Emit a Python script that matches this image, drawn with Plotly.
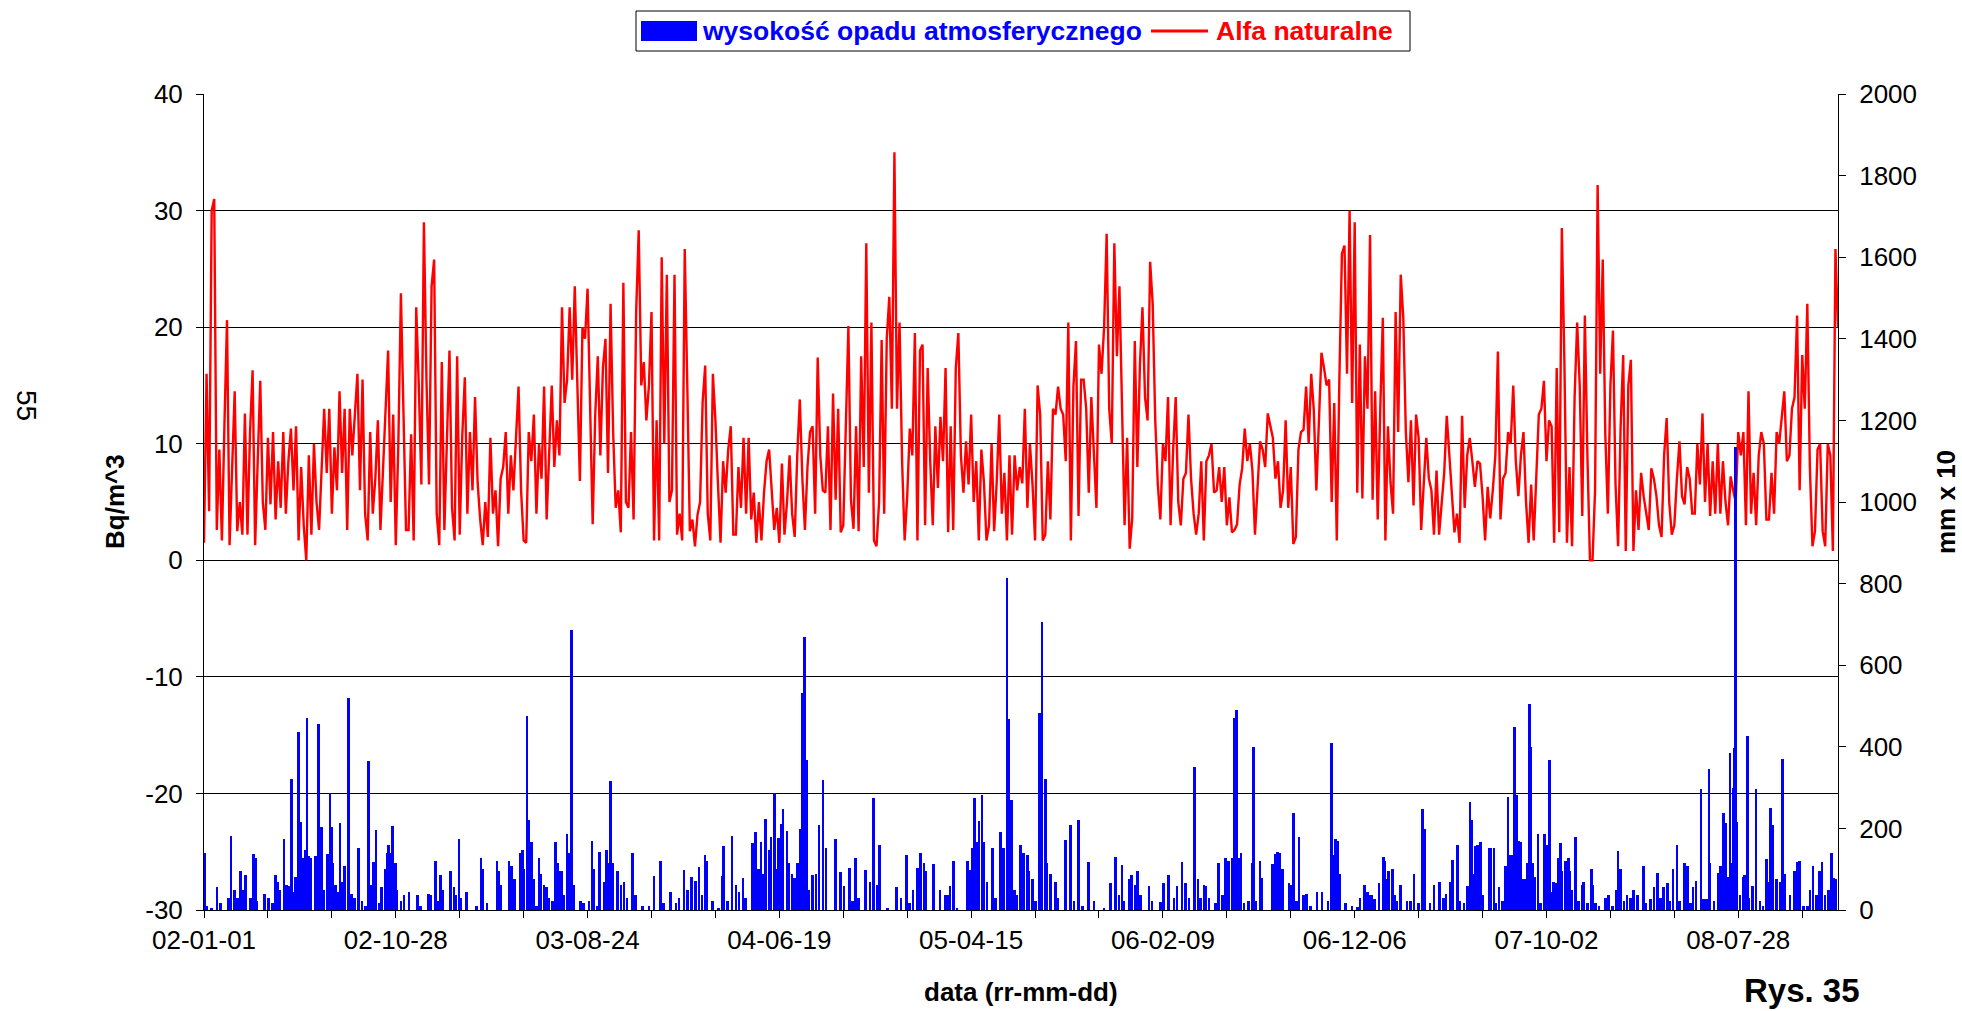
import pandas as pd
import plotly.graph_objects as go

# ---- data -------------------------------------------------------------
START = "2002-01-01"
END = "2008-12-31"
STEP_DAYS = 4  # natural alpha series, one reading every 4 days

# natural alpha concentration [Bq/m^3], consecutive 320-day periods
alfa_p1 = [1.5, 16, 4.2, 30, 31, 2.6, 9.5, 1.7, 11.7, 20.6, 1.3, 8, 14.5, 2.5, 5, 2.2, 12.6, 2.2, 11, 16.3,
           1.3, 8.5, 15.4, 5, 2.6, 10.5, 4.8, 11, 3.5, 8.5, 4.5, 11, 4, 8.5, 11.3, 6, 11.5, 1.7, 8, 3,
           0, 9, 2.2, 10, 5, 2.6, 8, 13, 7.5, 13, 4, 9.7, 6, 14.5, 7.5, 13, 2.6, 13, 9, 12.5,
           16, 6, 15.5, 4, 1.7, 11, 4, 7, 12, 2.6, 8, 13.5, 18, 5, 12.5, 1.3, 10, 22.9, 12, 2.6]
alfa_p2 = [2.6, 10.8, 1.7, 21.7, 15, 6.5, 29, 15.5, 6.5, 23.5, 25.8, 4, 1.3, 17, 2.6, 10.5, 18, 4.5, 1.7, 17.5,
           2.2, 10.7, 15.7, 4, 11, 6, 14, 6.7, 3.5, 1.3, 5, 2, 10.5, 4, 6, 1.2, 7, 8, 11, 4,
           9, 6, 11, 14.9, 6, 1.7, 1.5, 11, 8.5, 12.5, 4, 10, 7, 14.9, 3.5, 9, 15, 8, 12, 9,
           21.7, 13.5, 15.5, 21.7, 15.5, 23.5, 14, 6.8, 20, 19, 23.3, 12, 3.1, 12.5, 17.5, 9, 16.5, 19, 7.5, 22]
alfa_p3 = [11, 4.5, 6, 2.4, 23.8, 5, 4.5, 11, 3.5, 21.3, 28.3, 15, 17, 12, 15, 21.3, 1.7, 12, 1.7, 26,
           10, 24.5, 5, 6, 24.5, 2.2, 4, 1.7, 26.7, 15, 2.5, 3.5, 1.2, 3.9, 5, 13.6, 16.7, 4, 1.7, 16,
           12, 6.5, 1.5, 8.5, 5.8, 9.5, 11.5, 2.2, 2.2, 8, 4.5, 10.5, 4, 10.5, 3.5, 5.8, 1.5, 5, 1.7, 5.8,
           8.5, 9.5, 5.8, 2.6, 4.5, 1.5, 8.3, 2.2, 5, 9, 4, 2, 9, 13.8, 7, 2.6, 8, 11, 11.5, 4]
alfa_p4 = [17.4, 9, 6, 5.8, 11.5, 2.6, 14.3, 5.2, 13, 2.4, 3, 12.5, 20.1, 5.2, 2.7, 11.5, 2.5, 17.5, 8, 27.2,
           5.8, 20.4, 1.7, 1.2, 5, 18.9, 4, 19, 22.6, 13, 35, 13, 20.4, 8.5, 1.7, 5.5, 11.3, 9, 19.5, 1.7,
           18, 18.5, 3, 16.5, 8.5, 3, 11.5, 6.2, 12.3, 8.5, 16.5, 2.4, 11.5, 2.6, 16.5, 19.5, 9, 5.8, 10.2, 6.5,
           12.5, 5, 8.5, 1.7, 9.5, 6.7, 1.7, 3, 10, 2.5, 6.7, 12.5, 4, 7.5, 1.7, 9, 2.2, 9, 6, 8]
alfa_p5 = [6.6, 13, 4.5, 10, 6.5, 1.7, 15, 12.5, 1.7, 2.2, 8.5, 3.5, 13, 12.5, 14.9, 13, 12.5, 8.5, 20.4, 1.7,
           14.9, 18.8, 3.8, 15.5, 15.5, 13, 5.8, 14, 8.5, 4.5, 18.5, 16, 20, 28, 13, 10, 27.2, 17.5, 23.5, 13,
           3, 10.5, 1, 3.6, 18.8, 8, 16.7, 21.7, 14, 12, 25.6, 22, 12, 6.5, 3.5, 10, 8.5, 14, 3, 9.5,
           14, 5, 3, 7, 7.5, 12.5, 7, 4, 2.2, 4, 8.5, 1.7, 8.5, 9, 10, 5.8, 6, 8, 5, 8]
alfa_p6 = [3, 5.4, 2.4, 2.6, 3.1, 6.5, 7.9, 11.3, 8.5, 10, 7.7, 2.2, 6.5, 10.2, 9.5, 8, 12.6, 11.5, 10.5, 7,
           8.5, 4.5, 6, 12, 4.5, 8, 1.4, 2, 9.5, 11, 11.2, 14.9, 10, 16, 12.9, 6, 12.6, 17.8, 16.5, 15,
           15.5, 5, 13.5, 1.7, 15.5, 26.3, 27, 16, 30, 13.5, 29, 5.8, 18.5, 5.3, 17.5, 13, 27.9, 5.2, 14.5, 3.5,
           13, 20.8, 1.7, 11.5, 6.7, 4, 21.3, 11, 24.5, 20.8, 11, 6.7, 12, 4.7, 12.5, 10.5, 2.6, 6.5, 10.5, 7]
alfa_p7 = [6, 2.2, 7.7, 2.2, 5, 7.5, 12.4, 9, 5.4, 2.4, 4, 1.5, 12.4, 4.5, 9, 10.5, 8.5, 6.3, 8.5, 8.3,
           5.5, 1.7, 6.3, 3.6, 6, 9, 17.9, 3.5, 7, 7.5, 11, 10, 15, 8.5, 5.5, 9, 11, 5, 1.5, 6.5,
           1.7, 8, 12.5, 13, 15.4, 8.5, 12, 11.5, 1.5, 16.5, 2.4, 28.5, 17, 1.5, 8, 1.2, 14, 20.4, 15, 3.8,
           21, 9, 0, 0, 6, 32.2, 16, 25.8, 10.8, 4, 15, 19.7, 6.5, 1.2, 11.5, 17.6, 0.8, 15, 17.2, 0.8]
alfa_p8 = [6, 2.6, 7.5, 5.5, 3.8, 2.6, 7.9, 7, 5.5, 3, 2, 9, 12.2, 5, 2.2, 3, 7, 10.2, 5.5, 4.8,
           8, 7, 4, 4, 10, 6.5, 12.6, 5, 10, 3.8, 8.5, 4, 10, 4, 8.5, 5, 3, 7.2, 6, 5,
           11, 9, 11, 3, 14.5, 4, 7.5, 3, 9, 11, 10, 3.5, 3.5, 7.5, 4, 11, 10, 12, 14.5, 8.5,
           9, 13, 14, 21, 6, 17.6, 13, 22, 8, 1.2, 2.5, 9.5, 10, 2.5, 1.2, 10, 9, 0.8, 26.7, 20]

# daily precipitation [mm x 10]: day number counted from 2002-01-01, and amount
rain_day = [1, 4, 12, 20, 26, 38, 42, 48, 52, 57, 60, 65, 73, 77, 81, 83, 95, 101, 107, 112,
            115, 118, 125, 129, 132, 137, 141, 143, 148, 151, 154, 158, 161, 164, 167, 174, 176, 179, 181, 184,
            188, 193, 197, 200, 202, 206, 209, 213, 216, 220, 226, 231, 235, 242, 247, 253, 257, 261, 265, 269,
            274, 278, 283, 287, 289, 292, 295, 297, 300, 302, 308, 313, 321,
            334, 339, 351, 355, 362, 365, 370, 374, 386, 391, 394, 399, 401, 411, 426, 433, 436, 443, 458, 461,
            464, 477, 481, 486, 494, 498, 500, 505, 508, 512, 516, 520, 524, 527, 532, 536, 540, 545, 550, 553,
            557, 560, 563, 568, 571, 575, 578, 589, 594, 602, 607, 610, 615, 619, 626, 630, 633, 636, 640,
            647, 652, 657, 662, 670, 675, 686, 696, 704, 714, 719, 730, 738, 743, 751, 756, 763, 769, 774, 779,
            784, 787, 795, 805, 811, 813, 819, 826, 832, 837, 843, 847, 858, 863, 867, 871, 874, 878, 884, 887,
            892, 897, 899, 903, 906, 912, 915, 920, 924, 928, 932, 936, 939, 943, 946, 952, 957, 962,
            968, 973, 988, 996, 1001, 1010, 1014, 1019, 1024, 1035, 1042, 1047, 1053, 1057, 1069, 1083, 1090, 1099,
            1104, 1109, 1116, 1121, 1126, 1129, 1141, 1151, 1160, 1163, 1167, 1172, 1178, 1194, 1198, 1202, 1205,
            1210, 1212, 1217, 1220, 1225, 1233, 1238, 1246, 1251, 1256, 1259, 1263, 1268, 1272, 1277, 1282,
            1288, 1290, 1296, 1301, 1307, 1311, 1316, 1319, 1324, 1332, 1336, 1348, 1355, 1361, 1368, 1374, 1384,
            1392, 1408, 1418, 1426, 1431, 1436, 1439, 1447, 1451, 1456, 1460, 1465, 1478, 1483, 1496, 1501, 1509,
            1517, 1522, 1530, 1535, 1541, 1549, 1555, 1559, 1564, 1567, 1572, 1582, 1587, 1593, 1598, 1603,
            1608, 1612, 1615, 1619, 1622, 1627, 1634, 1640, 1642, 1645, 1652, 1655, 1671, 1675, 1679, 1683, 1687,
            1697, 1700, 1704, 1709, 1713, 1720, 1725, 1731, 1741, 1749, 1758, 1764, 1767, 1770, 1774, 1777, 1786,
            1796, 1804, 1808, 1815, 1820, 1824, 1827, 1831, 1838, 1845, 1847, 1851, 1853, 1859, 1862, 1866, 1872,
            1882, 1887, 1893, 1900, 1906, 1909, 1918, 1924,
            1933, 1939, 1943, 1950, 1953, 1961, 1965, 1971, 1976, 1980, 1983, 1985, 1989, 1992, 1997, 2000, 2010,
            2012, 2018, 2020, 2026, 2031, 2036, 2040, 2044, 2046, 2050, 2053, 2057, 2059, 2064, 2067, 2070, 2073,
            2076, 2079, 2082, 2087, 2091, 2097, 2101, 2105, 2109, 2111, 2114, 2119, 2122, 2124, 2130, 2134, 2137,
            2140, 2145, 2150, 2156, 2158, 2164, 2170, 2173, 2177, 2182, 2192, 2197, 2203, 2209, 2212, 2216, 2221,
            2226, 2231, 2236, 2242,
            2252, 2256, 2263, 2268, 2274, 2278, 2283, 2289, 2293, 2298, 2304, 2308, 2316, 2321, 2325, 2329, 2334,
            2342, 2346, 2350, 2354, 2356, 2362, 2368, 2372, 2377, 2381, 2383, 2387, 2389, 2392, 2394, 2396, 2398,
            2403, 2408, 2410, 2414, 2417, 2422, 2428, 2434, 2439, 2444, 2447, 2450, 2454, 2460, 2465, 2469, 2472,
            2481, 2488, 2492, 2496, 2502, 2508, 2512, 2517, 2522, 2527, 2531, 2536, 2541, 2546, 2550, 2553]
rain_mm10 = [140, 10, 4, 56, 17, 30, 182, 49, 30, 95, 49, 86, 30, 138, 127, 23, 39, 30, 17, 86,
             69, 49, 175, 62, 58, 320, 43, 82, 436, 216, 127, 147, 470, 132, 127, 132, 127, 455, 62, 203,
             49, 138, 286, 203, 114, 62, 43, 214, 69, 108, 520, 39, 30, 153, 23, 10, 364, 62, 117, 195,
             17, 56, 101, 140, 160, 140, 205, 114, 114, 49, 23, 36, 43,
             36, 10, 39, 36, 121, 23, 86, 49, 95, 56, 36, 173, 30, 43, 10, 127, 101, 17, 121, 95,
             62, 121, 108, 75, 140, 147, 101, 475, 221, 166, 75, 10, 127, 88, 62, 56, 30, 23, 166, 114,
             95, 95, 36, 186, 140, 686, 62, 23, 17, 23, 169, 101, 10, 143, 69, 147, 114, 316, 114,
             95, 62, 69, 30, 140, 36, 10, 10, 84, 119, 17, 43, 17, 30, 97, 49, 82, 71, 105, 36,
             136, 121, 23, 4, 84, 156, 23, 182, 62, 43, 79, 30, 164, 190, 101, 166, 88, 222, 147, 179,
             286, 101, 177, 212, 248, 193, 114, 88, 78, 114, 199, 532, 669, 368, 49, 86, 88, 208,
             318, 153, 175, 92, 60, 104, 23, 127, 30, 99, 68, 274, 62, 160, 4, 56, 30, 134,
             17, 49, 104, 139, 114, 95, 112, 49, 36, 36, 58, 121, 4, 121, 97, 153, 274,
             166, 218, 281, 166, 69, 153, 30, 192, 153, 813, 468, 270, 49, 36, 160, 140,
             134, 95, 75, 23, 484, 705, 322, 114, 88, 69, 30, 171, 208, 21, 221, 10, 117,
             23, 4, 66, 130, 36, 110, 23, 75, 86, 62, 96, 36, 60, 23, 19, 65, 86,
             30, 60, 117, 66, 30, 351, 75, 30, 62, 60, 30, 17, 114, 36, 127, 121,
             127, 471, 491, 127, 140, 17, 23, 114, 400, 23, 121, 78, 112, 138, 143, 140, 101,
             65, 62, 238, 23, 179, 36, 39, 10, 43, 43, 23, 409, 134, 173, 169, 88, 17,
             10, 8, 30, 62, 43, 36, 36, 26, 65, 130, 121, 75, 95, 101, 36, 23, 62,
             23, 23, 88, 17, 247, 199, 17, 62,
             69, 30, 39, 69, 123, 160, 23, 17, 58, 264, 221, 88, 156, 160, 166, 36, 151,
             151, 151, 17, 56, 23, 108, 278, 134, 134, 449, 283, 169, 166, 75, 75, 114, 506,
             400, 114, 82, 186, 17, 186, 160, 368, 43, 69, 66, 127, 164, 95, 121, 127, 95,
             49, 179, 23, 62, 69, 17, 101, 62, 17, 10, 30, 36, 10, 49, 144, 101, 23,
             36, 30, 49, 36,
             108, 17, 26, 56, 91, 30, 56, 66, 23, 101, 160, 23, 114, 108, 17, 56, 71,
             296, 26, 26, 345, 114, 23, 91, 108, 238, 214, 82, 384, 114, 299, 397, 1134, 216,
             36, 82, 86, 426, 30, 60, 296, 21, 10, 125, 69, 251, 209, 75, 69, 371, 88,
             36, 95, 117, 121, 10, 10, 49, 108, 36, 95, 117, 36, 49, 140, 78, 75]

# axis ticks
X_LABEL_EVERY_DAYS = 300
X_MINOR_EVERY_DAYS = 100
LEFT_TICKS = [-30, -20, -10, 0, 10, 20, 30, 40]
RIGHT_TICKS = [0, 200, 400, 600, 800, 1000, 1200, 1400, 1600, 1800, 2000]

# ---- derived series ---------------------------------------------------
alfa = alfa_p1 + alfa_p2 + alfa_p3 + alfa_p4 + alfa_p5 + alfa_p6 + alfa_p7 + alfa_p8
alfa_dates = pd.date_range(START, periods=len(alfa), freq=f"{STEP_DAYS}D")
rain_dates = pd.Timestamp(START) + pd.to_timedelta(rain_day, unit="D")

DAY_MS = 86400000
FONT = "Arial, Liberation Sans, sans-serif"

# ---- page geometry (pixels) -------------------------------------------
W, H = 1962, 1011
L, R, T, B = 204, 1838, 94, 910


def px(x):
    return (x - L) / (R - L)


def py(y):
    return (B - y) / (B - T)


fig = go.Figure()

fig.add_trace(go.Scatter(
    x=alfa_dates, y=alfa, mode="lines", name="Alfa naturalne",
    line=dict(color="#FF0000", width=2.4), showlegend=False,
))
fig.add_trace(go.Bar(
    x=rain_dates, y=rain_mm10, name="wysokość opadu atmosferycznego",
    yaxis="y2", marker=dict(color="#0000FF", line=dict(width=0)),
    width=4 * DAY_MS, showlegend=False,
))

tick_font = dict(family=FONT, size=26, color="black")

fig.update_layout(
    width=W, height=H,
    margin=dict(l=L, r=W - R, t=T, b=H - B, pad=0),
    paper_bgcolor="white", plot_bgcolor="white",
    bargap=0,
    xaxis=dict(
        type="date", range=[START, END],
        tickformat="%y-%m-%d", tick0=START, dtick=X_LABEL_EVERY_DAYS * DAY_MS,
        ticks="outside", ticklen=7, tickcolor="black", tickwidth=1,
        minor=dict(dtick=X_MINOR_EVERY_DAYS * DAY_MS, tick0=START, ticks="outside",
                   ticklen=7, tickcolor="black", showgrid=False),
        showgrid=False, showline=True, linecolor="black", linewidth=1,
        tickfont=tick_font, zeroline=False,
    ),
    yaxis=dict(
        range=[LEFT_TICKS[0], LEFT_TICKS[-1]],
        tickmode="array", tickvals=LEFT_TICKS, ticktext=[str(v) for v in LEFT_TICKS],
        ticks="outside", ticklen=7, tickcolor="black", ticklabelstandoff=8,
        showgrid=True, gridcolor="black", gridwidth=1,
        zeroline=True, zerolinecolor="black", zerolinewidth=1,
        showline=True, linecolor="black", linewidth=1,
        tickfont=tick_font,
    ),
    yaxis2=dict(
        range=[RIGHT_TICKS[0], RIGHT_TICKS[-1]],
        tickmode="array", tickvals=RIGHT_TICKS, ticktext=[str(v) for v in RIGHT_TICKS],
        overlaying="y", side="right",
        ticks="outside", ticklen=7, tickcolor="black", ticklabelstandoff=8,
        showgrid=False, zeroline=False,
        showline=True, linecolor="black", linewidth=1,
        tickfont=tick_font,
    ),
)

bold = dict(family=FONT, size=26, color="black")
ann = [
    dict(text="<b>Bq/m^3</b>", x=px(115), y=0.5, textangle=-90, font=bold),
    dict(text="<b>mm x 10</b>", x=px(1946), y=0.5, textangle=-90, font=bold),
    dict(text="<b>data (rr-mm-dd)</b>", x=0.5, y=py(992), font=bold),
    dict(text="55", x=px(27), y=py(405), textangle=90,
         font=dict(family=FONT, size=28, color="black")),
    dict(text="<b>Rys. 35</b>", x=px(1802), y=py(970), yanchor="top",
         font=dict(family=FONT, size=33, color="black")),
    # legend entries
    dict(text="<b>wysokość opadu atmosferycznego</b>", x=px(700), y=py(31), xanchor="left",
         font=dict(family=FONT, size=26.5, color="#0000FF")),
    dict(text="<b>Alfa naturalne</b>", x=px(1214), y=py(31), xanchor="left",
         font=dict(family=FONT, size=26.5, color="#FF0000")),
]
for a in ann:
    a.setdefault("xanchor", "center")
    a.setdefault("yanchor", "middle")
    fig.add_annotation(xref="paper", yref="paper", showarrow=False, **a)

# legend frame and keys
fig.add_shape(type="rect", xref="paper", yref="paper",
              x0=px(636), x1=px(1410), y0=py(51), y1=py(11),
              line=dict(color="black", width=1), fillcolor="white", layer="above")
fig.add_shape(type="rect", xref="paper", yref="paper",
              x0=px(641), x1=px(697), y0=py(41), y1=py(21),
              line=dict(width=0), fillcolor="#0000FF", layer="above")
fig.add_shape(type="line", xref="paper", yref="paper",
              x0=px(1151), x1=px(1208), y0=py(31), y1=py(31),
              line=dict(color="#FF0000", width=3), layer="above")

fig.write_html("out.html")
